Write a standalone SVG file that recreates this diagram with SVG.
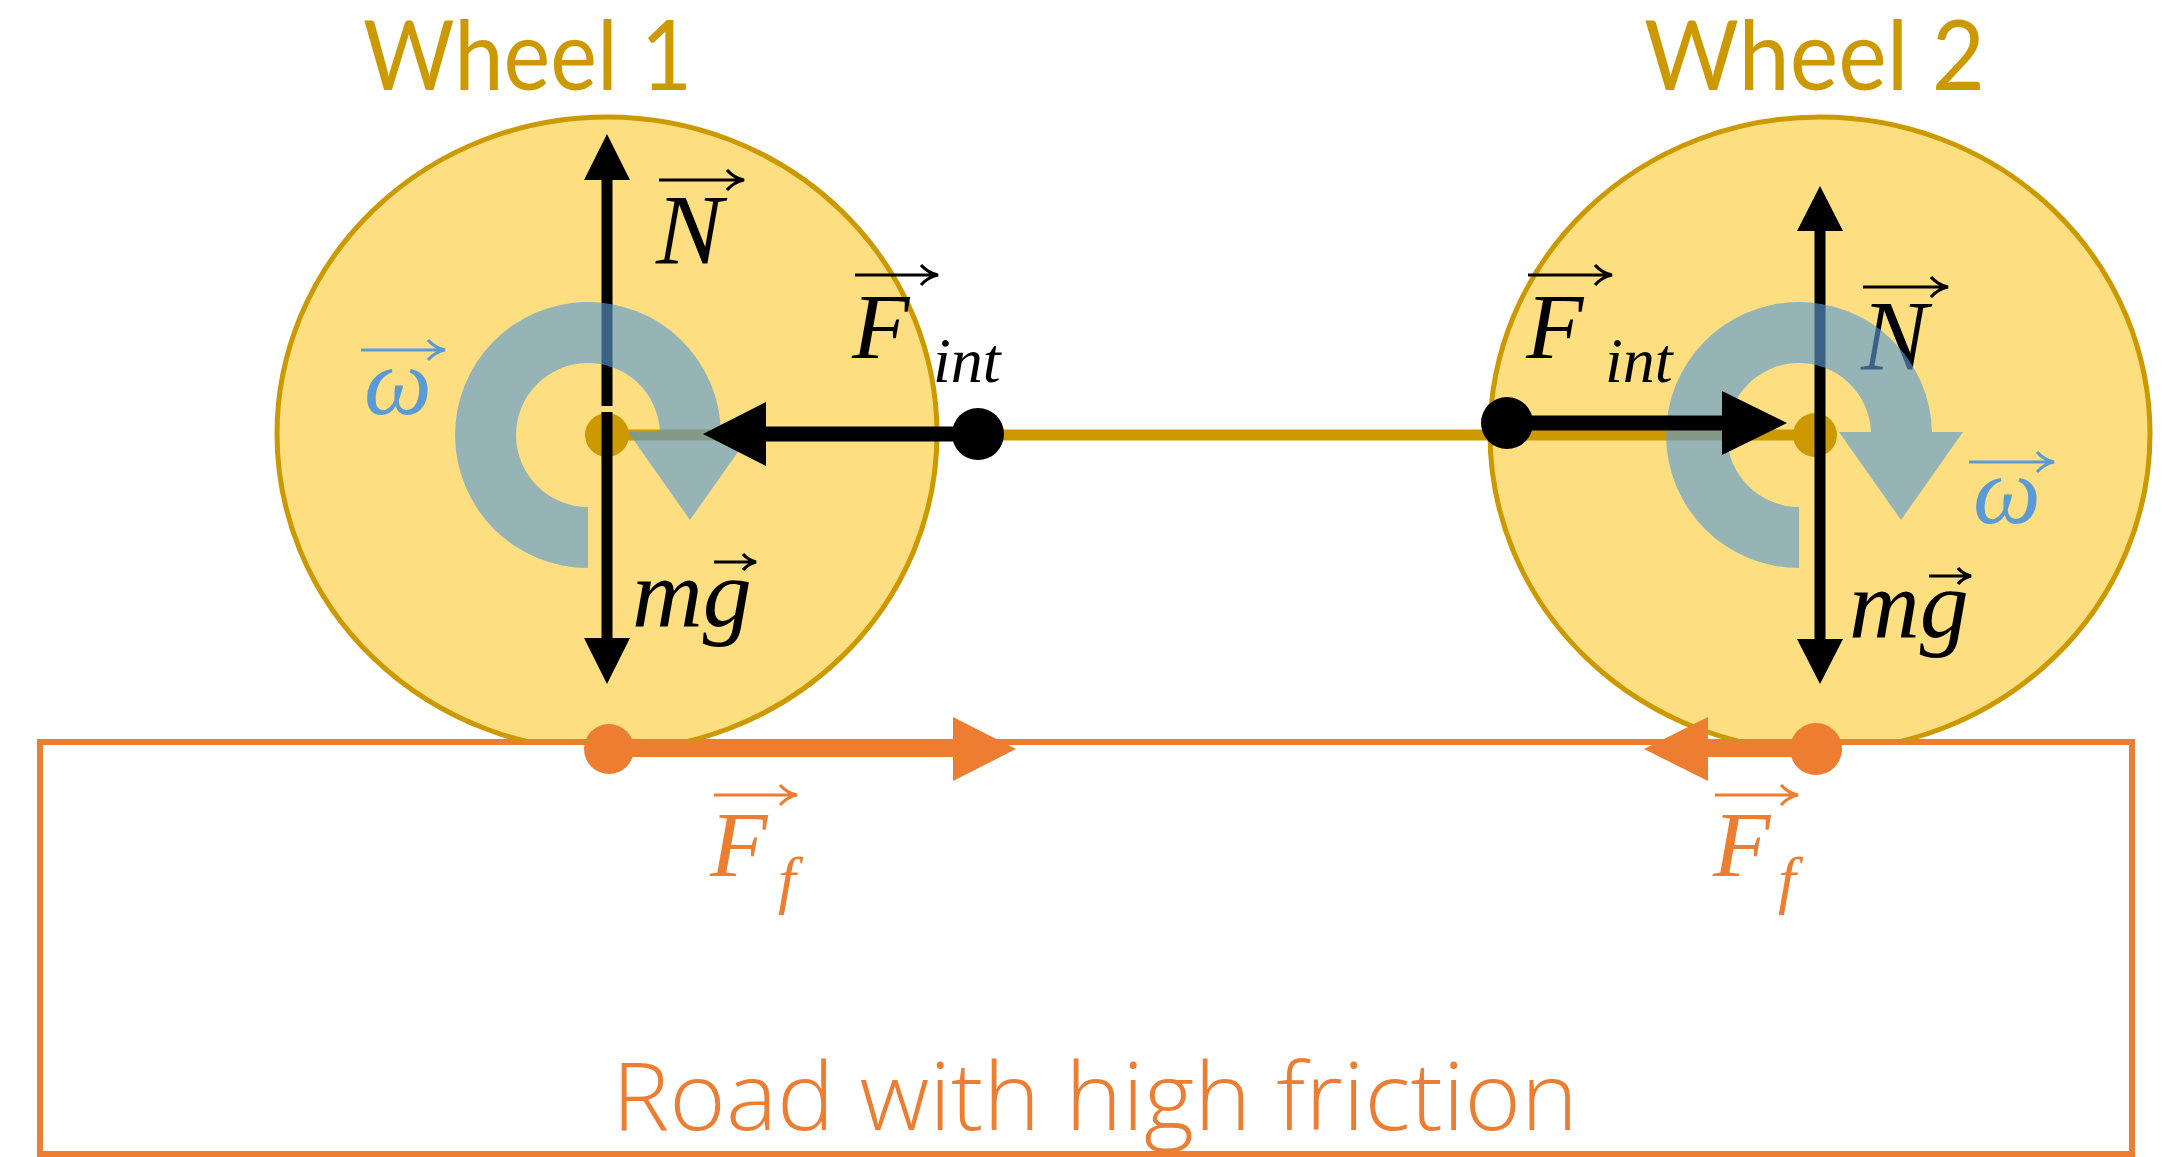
<svg xmlns="http://www.w3.org/2000/svg" width="2172" height="1157" viewBox="0 0 2172 1157">
<style>
.wheel{fill:#FDDF82;stroke:#CC9900;stroke-width:5}
.title{font-family:Lato,"Open Sans",sans-serif;font-size:96px;fill:#CC9900}
.road{font-family:"Open Sans",Lato,sans-serif;font-weight:300;font-size:94px;fill:#ED7D31}
.math{font-family:"Liberation Serif","Times New Roman",serif;font-style:italic;fill:#000}
.blk{stroke:#000;fill:none}
.ovb{stroke:#000;stroke-width:3.2;fill:none;stroke-linecap:butt}
.ovw{stroke:#5B9BD5;stroke-width:3.2;fill:none}
.ovo{stroke:#ED7D31;stroke-width:3.2;fill:none}
.spin{fill:#5B9BD5;fill-opacity:0.63}
.org{fill:#ED7D31}
</style>
<rect width="2172" height="1157" fill="#fff"/>
<g id="wheel1"><ellipse class="wheel" cx="607" cy="434" rx="330" ry="317"/></g>
<g id="wheel2"><ellipse class="wheel" cx="1820" cy="434" rx="330" ry="317"/></g>
<g id="road"><rect x="40" y="742" width="2092" height="412" fill="#fff" stroke="#ED7D31" stroke-width="6"/>
<text class="road" x="612" y="1130" textLength="966" lengthAdjust="spacingAndGlyphs">Road with high friction</text></g>
<g id="titles">
<text class="title" x="363" y="90" textLength="329" lengthAdjust="spacingAndGlyphs">Wheel 1</text>
<text class="title" x="1644" y="90" textLength="341" lengthAdjust="spacingAndGlyphs">Wheel 2</text>
</g>
<g id="connectors">
<line x1="607" y1="435" x2="1815" y2="435" stroke="#CC9900" stroke-width="11"/>
<circle cx="607" cy="435" r="22" fill="#CC9900"/>
<circle cx="1815" cy="435" r="22" fill="#CC9900"/>
<!-- wheel 1 vertical forces -->
<line class="blk" x1="607" y1="406" x2="607" y2="178" stroke-width="11"/>
<polygon points="607,134 630,180 584,180" fill="#000"/>
<line class="blk" x1="607" y1="412" x2="607" y2="642" stroke-width="11"/>
<polygon points="607,684 630,638 584,638" fill="#000"/>
<!-- wheel 2 vertical forces -->
<line class="blk" x1="1820" y1="435" x2="1820" y2="228" stroke-width="11"/>
<polygon points="1820,186 1843,231 1797,231" fill="#000"/>
<line class="blk" x1="1820" y1="435" x2="1820" y2="642" stroke-width="11"/>
<polygon points="1820,684 1843,639 1797,639" fill="#000"/>
</g>
<g id="labels-under">
<text class="math" x="656" y="263" font-size="100">N</text>
<path class="ovb" d="M659,180 H743 M727,170 Q734,178 744,180 Q734,182 727,190"/>
<text class="math" x="632" y="626" font-size="98">mg</text>
<path class="ovb" d="M714,562 H755 M743,554 Q748,560 756,562 Q748,564 743,570"/>
<text class="math" x="1861" y="369" font-size="100">N</text>
<path class="ovb" d="M1863,287 H1947 M1931,277 Q1938,285 1948,287 Q1938,289 1931,297"/>
<text class="math" x="1849" y="637" font-size="98">mg</text>
<path class="ovb" d="M1929,576 H1970 M1958,568 Q1963,574 1971,576 Q1963,578 1958,584"/>
</g>
<g id="spin1"><path class="spin" d="M588,568 A133,133 0 1 1 721,432 L752,432 L690,520 L628,432 L660,432 A72,72 0 1 0 588,507 Z"/></g>
<g id="spin2"><path class="spin" d="M1799,568 A133,133 0 1 1 1932,432 L1963,432 L1901,520 L1839,432 L1871,432 A72,72 0 1 0 1799,507 Z"/></g>
<g id="fint">
<line class="blk" x1="978" y1="434" x2="762" y2="434" stroke-width="15"/>
<polygon points="703,434 766,402 766,466" fill="#000"/>
<circle cx="978" cy="434" r="26" fill="#000"/>
<line class="blk" x1="1507" y1="423" x2="1726" y2="423" stroke-width="15"/>
<polygon points="1787,423 1722,391 1722,455" fill="#000"/>
<circle cx="1507" cy="423" r="26" fill="#000"/>
</g>
<g id="friction">
<line x1="609" y1="749" x2="958" y2="749" stroke="#ED7D31" stroke-width="16"/>
<polygon class="org" points="1016,749 953,717 953,781"/>
<circle class="org" cx="609" cy="749" r="25"/>
<line x1="1816" y1="749" x2="1704" y2="749" stroke="#ED7D31" stroke-width="16"/>
<polygon class="org" points="1644,749 1708,717 1708,781"/>
<circle class="org" cx="1816" cy="749" r="26"/>
</g>
<g id="labels">
<text class="math" x="364" y="414" font-size="96" fill="#5B9BD5" style="fill:#5B9BD5">ω</text>
<path class="ovw" d="M361,350 H444 M428,340 Q435,348 445,350 Q435,352 428,360"/>
<text class="math" x="1973" y="523" font-size="96" style="fill:#5B9BD5">ω</text>
<path class="ovw" d="M1969,462 H2053 M2037,452 Q2044,460 2054,462 Q2044,464 2037,472"/>
<text class="math" x="852" y="358" font-size="94">F</text>
<text class="math" x="933" y="382" font-size="64">int</text>
<path class="ovb" d="M855,275 H937 M921,265 Q928,273 938,275 Q928,277 921,285"/>
<text class="math" x="1526" y="358" font-size="94">F</text>
<text class="math" x="1605" y="382" font-size="64">int</text>
<path class="ovb" d="M1528,275 H1611 M1595,265 Q1602,273 1612,275 Q1602,277 1595,285"/>
<text class="math" x="710" y="876" font-size="94" style="fill:#ED7D31">F</text>
<text class="math" x="778" y="901" font-size="64" style="fill:#ED7D31">f</text>
<path class="ovo" d="M714,795 H796 M780,785 Q787,793 797,795 Q787,797 780,805"/>
<text class="math" x="1713" y="876" font-size="94" style="fill:#ED7D31">F</text>
<text class="math" x="1778" y="901" font-size="64" style="fill:#ED7D31">f</text>
<path class="ovo" d="M1715,795 H1797 M1781,785 Q1788,793 1798,795 Q1788,797 1781,805"/>
</g>
</svg>
